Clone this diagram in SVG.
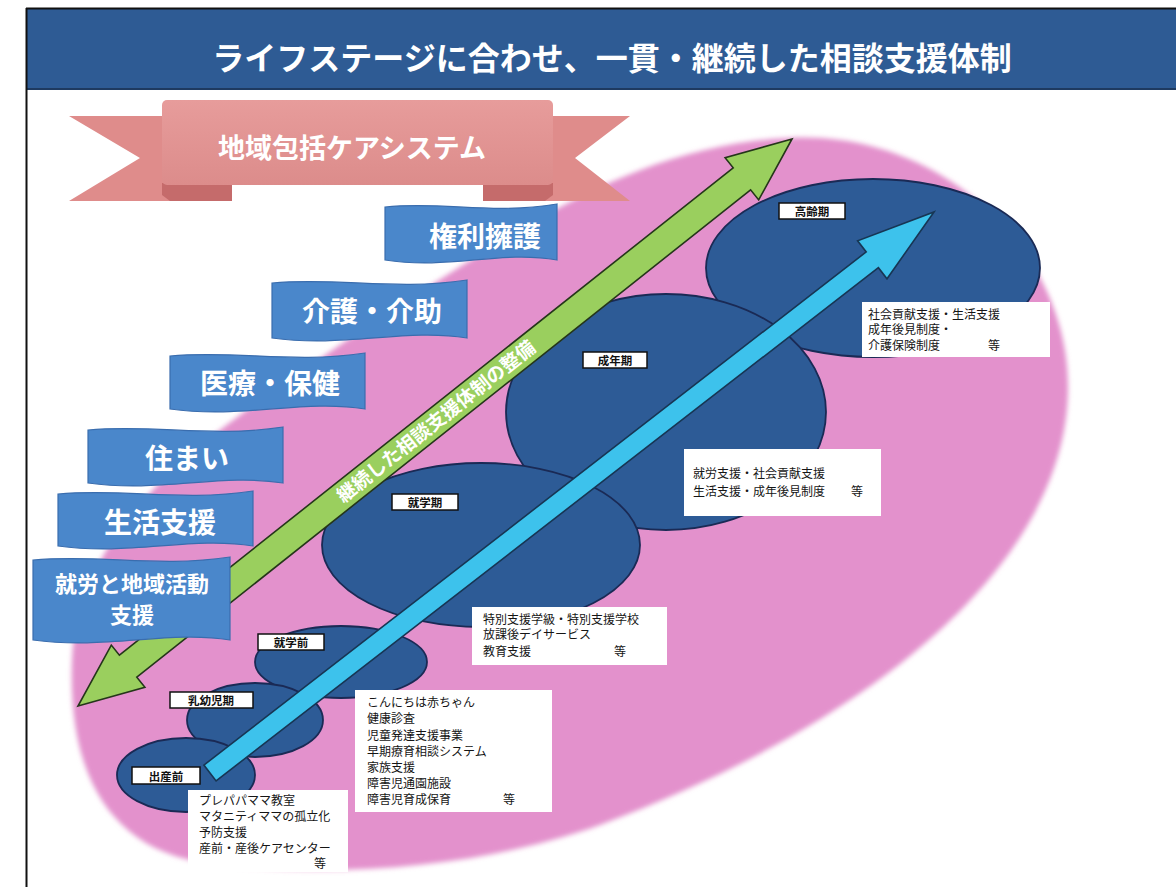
<svg xmlns="http://www.w3.org/2000/svg" width="1176" height="887" viewBox="0 0 1176 887">
<style>
.jp{font-family:"Noto Sans CJK JP","Noto Sans",sans-serif}
.title{font-size:32px;font-weight:700;fill:#fff}
.rib{font-size:27px;font-weight:700;fill:#fff}
.band{fill:#4A87CB;stroke:#3A6DAE;stroke-width:1.2}
.bt{font-size:28px;font-weight:700;fill:#fff}
.bt2{font-size:22px;font-weight:700;fill:#fff}
.stage{fill:#2D5B96;stroke:#1A2A55;stroke-width:1.8}
.lab{fill:#fff;stroke:#111;stroke-width:1.5}
.lt{font-size:11.5px;font-weight:700;fill:#111}
.box{fill:#fff}
.dt{font-size:12px;fill:#151515}
</style>
<defs>
<filter id="soft" x="-5%" y="-5%" width="110%" height="110%"><feGaussianBlur stdDeviation="2.5"/></filter>
<linearGradient id="ribg" x1="0" y1="0" x2="0" y2="1"><stop offset="0" stop-color="#E79C9B"/><stop offset="1" stop-color="#DC8C8B"/></linearGradient>
</defs>
<rect x="0" y="0" width="1176" height="887" fill="#fff"/>
<!-- frame and header -->
<g id="header">
<rect x="26" y="8" width="1150" height="81" fill="#2E5B94"/>
<line x1="26" y1="89" x2="1176" y2="89" stroke="#1E3A60" stroke-width="2"/>
<line x1="26.5" y1="8" x2="26.5" y2="887" stroke="#111" stroke-width="2"/>
<line x1="26" y1="8.5" x2="1176" y2="8.5" stroke="#111" stroke-width="2"/>
<text class="jp title" x="612" y="56" text-anchor="middle" dominant-baseline="central">ライフステージに合わせ、一貫・継続した相談支援体制</text>
</g>
<!-- pink background -->
<g id="background">
<path d="M790,138 C940,130 1070,250 1068,390 C1066,560 880,720 600,825 C480,868 330,880 200,862 C100,845 68,760 72,660 C76,560 150,480 240,415 C330,350 420,290 520,230 C600,182 690,142 790,138 Z" fill="#E391CC" filter="url(#soft)"/>
</g>
<!-- ribbon -->
<g id="ribbon">
<polygon points="69,116 170,116 170,201 69,201 140,158" fill="#DF8C8B"/>
<polygon points="545,116 630,116 575,158 630,201 545,201" fill="#DF8C8B"/>
<polygon points="162,183 232,183 232,201 170,201 162,195" fill="#C56B6B"/>
<polygon points="483,183 553,183 553,195 545,201 483,201" fill="#C56B6B"/>
<rect x="162" y="100" width="391" height="85" rx="5" fill="url(#ribg)"/>
<text class="jp rib" x="352" y="146" text-anchor="middle" dominant-baseline="central">地域包括ケアシステム</text>
</g>
<!-- stage ellipses -->
<g id="stage-koureiki"><ellipse class="stage" cx="873" cy="268" rx="167" ry="89"/></g>
<g id="stage-seinenki"><ellipse class="stage" cx="666" cy="412" rx="160" ry="118"/></g>
<g id="stage-shugakuki"><ellipse class="stage" cx="481" cy="545" rx="159" ry="82"/></g>
<g id="stage-shugakumae"><ellipse class="stage" cx="341" cy="662" rx="86" ry="36"/></g>
<g id="stage-nyuyoji"><ellipse class="stage" cx="255" cy="720" rx="68" ry="37"/></g>
<g id="stage-shussanmae"><ellipse class="stage" cx="186" cy="775" rx="69" ry="37"/></g>
<!-- connectors -->
<g id="connectors">
<polygon id="green-arrow" points="792,139 758.7,199.9 750.6,189.8 136.8,677.2 144.9,687.3 78,706 111.3,645.1 119.4,655.2 733.2,167.8 725.1,157.7" fill="#9ACF5E" stroke="#25361A" stroke-width="1.6" stroke-linejoin="miter"/>
<text class="jp" x="435" y="420" text-anchor="middle" dominant-baseline="central" transform="rotate(-38.46 435 420)" font-size="19" font-weight="700" fill="#fff">継続した相談支援体制の整備</text>
<polygon id="cyan-arrow" points="934,212 887,278.8 878.4,267.7 216.1,780.9 203.9,765.1 866.2,251.9 857.6,240.8" fill="#3DC2EC" stroke="#173654" stroke-width="1.6" stroke-linejoin="miter"/>
</g>
<!-- blue category bands -->
<g id="band-kenri"><path class="band" d="M385,207 C445,201 490,215 557,204 L557,260 C500,250 450,270 385,260 Z"/><text class="jp bt" x="485" y="235" text-anchor="middle" dominant-baseline="central">権利擁護</text></g>
<g id="band-kaigo"><path class="band" d="M272,283 C340,277 395,291 467,280 L467,338 C405,328 345,348 272,338 Z"/><text class="jp bt" x="372" y="310" text-anchor="middle" dominant-baseline="central">介護・介助</text></g>
<g id="band-iryo"><path class="band" d="M170,356 C238,350 293,364 365,353 L365,409 C303,399 243,419 170,409 Z"/><text class="jp bt" x="270" y="382" text-anchor="middle" dominant-baseline="central">医療・保健</text></g>
<g id="band-sumai"><path class="band" d="M88,430 C156,424 211,438 283,427 L283,483 C221,473 161,493 88,483 Z"/><text class="jp bt" x="187" y="457" text-anchor="middle" dominant-baseline="central">住まい</text></g>
<g id="band-seikatsu"><path class="band" d="M58,494 C126,488 181,502 253,491 L253,546 C191,536 131,556 58,546 Z"/><text class="jp bt" x="160" y="521" text-anchor="middle" dominant-baseline="central">生活支援</text></g>
<g id="band-shuro"><path class="band" d="M33,560 C102,554 158,568 230,557 L230,640 C168,630 107,650 33,640 Z"/><text class="jp bt2" x="132" y="582" text-anchor="middle" dominant-baseline="central">就労と地域活動</text><text class="jp bt2" x="132" y="613" text-anchor="middle" dominant-baseline="central">支援</text></g>
<!-- stage labels -->
<g id="label-koureiki"><rect class="lab" x="779" y="203" width="66" height="16"/><text class="jp lt" x="812" y="211" text-anchor="middle" dominant-baseline="central">高齢期</text></g>
<g id="label-seinenki"><rect class="lab" x="583" y="352" width="64" height="16"/><text class="jp lt" x="615" y="360" text-anchor="middle" dominant-baseline="central">成年期</text></g>
<g id="label-shugakuki"><rect class="lab" x="392" y="494" width="66" height="16"/><text class="jp lt" x="425" y="502" text-anchor="middle" dominant-baseline="central">就学期</text></g>
<g id="label-shugakumae"><rect class="lab" x="258" y="634" width="66" height="16"/><text class="jp lt" x="291" y="642" text-anchor="middle" dominant-baseline="central">就学前</text></g>
<g id="label-nyuyoji"><rect class="lab" x="170" y="692" width="83" height="16"/><text class="jp lt" x="211" y="700" text-anchor="middle" dominant-baseline="central">乳幼児期</text></g>
<g id="label-shussanmae"><rect class="lab" x="132" y="767" width="68" height="17"/><text class="jp lt" x="166" y="775.5" text-anchor="middle" dominant-baseline="central">出産前</text></g>
<!-- description boxes -->
<g id="desc-koureiki"><rect class="box" x="862" y="302" width="188" height="55"/>
<text class="jp dt" x="868" y="319">社会貢献支援・生活支援</text>
<text class="jp dt" x="868" y="334">成年後見制度・</text>
<text class="jp dt" x="868" y="350">介護保険制度<tspan x="988">等</tspan></text></g>
<g id="desc-seinenki"><rect class="box" x="684" y="449" width="197" height="67"/>
<text class="jp dt" x="693" y="478">就労支援・社会貢献支援</text>
<text class="jp dt" x="693" y="496">生活支援・成年後見制度<tspan x="851">等</tspan></text></g>
<g id="desc-shugakuki"><rect class="box" x="472" y="607" width="195" height="58"/>
<text class="jp dt" x="483" y="624">特別支援学級・特別支援学校</text>
<text class="jp dt" x="483" y="639">放課後デイサービス</text>
<text class="jp dt" x="483" y="656">教育支援<tspan x="614">等</tspan></text></g>
<g id="desc-nyuyoji"><rect class="box" x="355" y="690" width="197" height="122"/>
<text class="jp dt" x="367" y="707">こんにちは赤ちゃん</text>
<text class="jp dt" x="367" y="723">健康診査</text>
<text class="jp dt" x="367" y="740">児童発達支援事業</text>
<text class="jp dt" x="367" y="756">早期療育相談システム</text>
<text class="jp dt" x="367" y="772">家族支援</text>
<text class="jp dt" x="367" y="788">障害児通園施設</text>
<text class="jp dt" x="367" y="804">障害児育成保育<tspan x="503">等</tspan></text></g>
<g id="desc-shussanmae"><rect class="box" x="188" y="790" width="160" height="82"/>
<text class="jp dt" x="199" y="805">プレパパママ教室</text>
<text class="jp dt" x="199" y="821">マタニティママの孤立化</text>
<text class="jp dt" x="199" y="837">予防支援</text>
<text class="jp dt" x="199" y="853">産前・産後ケアセンター</text>
<text class="jp dt" x="314" y="868">等</text></g>
</svg>
